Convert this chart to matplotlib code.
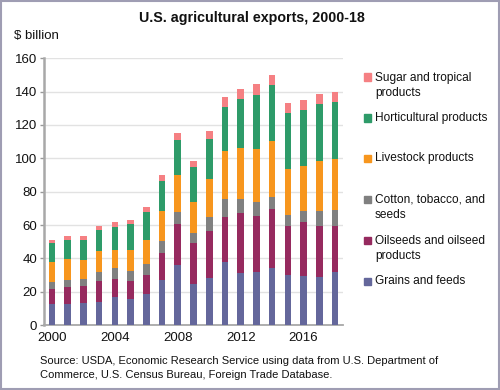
import matplotlib
matplotlib.use("Agg")
import matplotlib.pyplot as plt
from matplotlib.patches import Rectangle
import numpy as np

plt.rcParams['font.family'] = ['Liberation Sans', 'DejaVu Sans']

years = list(range(2000, 2019))
grains = [12.8, 12.8, 13.4, 14.2, 16.8, 15.8, 18.5, 27.2, 36.0, 24.8, 28.4, 37.8, 31.1, 31.7, 34.1, 30.1, 29.3, 28.7, 31.9]
oilseeds = [9.0, 10.2, 10.4, 12.4, 11.2, 10.8, 11.8, 16.2, 24.6, 24.6, 28.0, 26.8, 35.9, 33.6, 35.6, 29.2, 32.6, 31.0, 27.8]
cotton = [4.2, 4.0, 4.0, 5.4, 6.0, 5.8, 6.6, 6.8, 7.4, 5.8, 8.4, 11.0, 8.7, 8.3, 7.1, 6.8, 6.6, 8.8, 9.4]
livestock = [11.8, 12.8, 11.4, 12.4, 11.0, 12.8, 13.9, 18.0, 22.0, 18.4, 23.0, 28.6, 30.2, 32.2, 33.8, 27.5, 26.9, 29.7, 30.5]
horticultural = [11.2, 11.4, 11.6, 12.4, 14.0, 15.4, 17.2, 18.4, 21.0, 21.2, 23.6, 26.5, 29.4, 32.3, 33.1, 33.5, 33.3, 34.3, 34.1]
sugar = [2.2, 2.4, 2.4, 2.6, 2.6, 2.6, 3.0, 3.4, 4.0, 3.8, 4.8, 5.8, 6.2, 6.4, 6.4, 6.0, 6.0, 6.0, 6.0]

series_names = ["Grains and feeds", "Oilseeds and oilseed\nproducts", "Cotton, tobacco, and\nseeds",
                "Livestock products", "Horticultural products", "Sugar and tropical\nproducts"]
series_values = [grains, oilseeds, cotton, livestock, horticultural, sugar]
colors = ["#64679b", "#962a5f", "#808080", "#f7961e", "#2e9b69", "#f58083"]

yticks = list(range(0, 161, 20))
xtick_years = [2000, 2004, 2008, 2012, 2016]

fig = plt.figure(figsize=(5.0, 3.9), dpi=100)
ax = fig.add_axes([0.088, 0.166, 0.598, 0.685])

bottom = np.zeros(len(years))
for vals, c in zip(series_values, colors):
    ax.bar(years, vals, bottom=bottom, width=0.42, color=c, edgecolor='none', zorder=3)
    bottom += np.array(vals)

ax.set_xlim(1999.49, 2018.51)
ax.set_ylim(0, 160)
ax.set_yticks(yticks)
ax.set_xticks(xtick_years)
ax.tick_params(axis='y', length=3, width=1, color='#999999', labelsize=9.5, pad=2, labelcolor='#111111')
ax.tick_params(axis='x', length=0, labelsize=9.5, pad=5, labelcolor='#111111')
ax.grid(axis='y', color='#e2e2e2', lw=1, zorder=0)
for s in ['top', 'right']:
    ax.spines[s].set_visible(False)
ax.spines['left'].set_color('#a8a8a8')
ax.spines['left'].set_linewidth(1.8)
ax.spines['bottom'].set_color('#a8a8a8')
ax.spines['bottom'].set_linewidth(1.3)

fig.text(0.503, 0.955, "U.S. agricultural exports, 2000-18", ha='center', va='center',
         fontsize=10.3, fontweight='bold', color='#111111')
fig.text(0.028, 0.907, "$ billion", ha='left', va='center', fontsize=9.5, color='#111111')

# legend, drawn top to bottom
leg_y = [77, 118, 158, 199, 240, 281]
for i, (name, c) in enumerate(zip(series_names[::-1], colors[::-1])):
    ypx = leg_y[i]
    fig.patches.append(Rectangle((364 / 500, 1 - (ypx + 3.5) / 390), 7 / 500, 7 / 390,
                                 transform=fig.transFigure, color=c, figure=fig))
    fig.text(375 / 500, 1 - (ypx - 5.5) / 390, name, ha='left', va='top', fontsize=8.6,
             color='#111111', linespacing=1.42)

fig.text(40 / 500, 1 - 356 / 390,
         "Source: USDA, Economic Research Service using data from U.S. Department of\n"
         "Commerce, U.S. Census Bureau, Foreign Trade Database.",
         ha='left', va='top', fontsize=8.0, color='#111111', linespacing=1.45)

fig.patches.append(Rectangle((0.002, 0.003), 0.996, 0.994, transform=fig.transFigure,
                             fill=False, edgecolor='#9f9db3', lw=1.5, figure=fig))

fig.savefig("out.png", dpi=100)
